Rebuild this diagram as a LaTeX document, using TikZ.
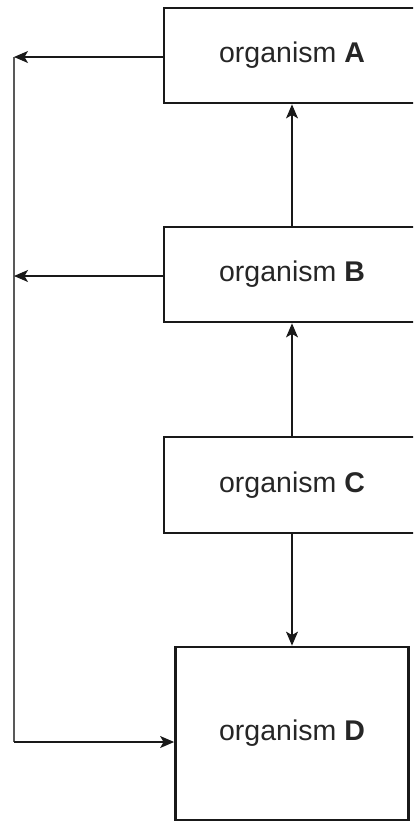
\documentclass[tikz,border=0pt]{standalone}
\usepackage{fontspec}
\setmainfont{Liberation Sans}
\usetikzlibrary{arrows.meta}
\begin{document}
\begin{tikzpicture}[x=1pt,y=-1pt,
  orgbox/.style={draw=black!90, line width=2.8pt, rectangle, inner sep=0pt,
    font=\fontsize{28.5}{31}\selectfont, text=black!85},
  conn/.style={line width=1.1pt, draw=black!90, -{Stealth[length=14pt,width=12pt,inset=3.5pt]}},
  leftline/.style={line width=1.5pt, draw=black!65}]
\clip (0,0) rectangle (413,823);
\fill[white] (0,0) rectangle (413,823);
\node[orgbox, minimum width=256pt, minimum height=95pt] (A) at (292,55.5) {organism \textbf{A}};
\node[orgbox, minimum width=256pt, minimum height=95pt] (B) at (292,274.5) {organism \textbf{B}};
\node[orgbox, minimum width=256pt, minimum height=96pt] (C) at (292,485) {organism \textbf{C}};
\node[orgbox, minimum width=233pt, minimum height=173pt] (D) at (292,733.5) {organism \textbf{D}};
\coordinate (LA) at (14,57);
\coordinate (LB) at (14,276);
\coordinate (LD) at (14,742);
\coordinate (DW) at (D.west |- LD);
\draw[leftline] (LA) -- (LD);
\draw[conn] (A.west |- LA) -- (LA);
\draw[conn] (B.west |- LB) -- (LB);
\draw[conn] (LD) -- (DW);
\draw[conn] (B.north) -- (A.south);
\draw[conn] (C.north) -- (B.south);
\draw[conn] (C.south) -- (D.north);
\end{tikzpicture}
\end{document}
